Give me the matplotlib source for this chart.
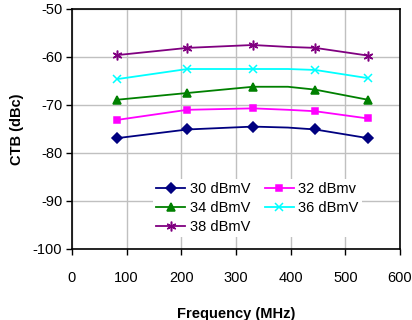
import numpy as np
import matplotlib
matplotlib.use('Agg')
import matplotlib.pyplot as pl

pl.rcParams['font.family'] = ['Liberation Sans', 'DejaVu Sans']
pl.rcParams['axes.unicode_minus'] = False

# frequency points (MHz); the 4th point has no marker on the original
freq = [83, 211, 331, 395, 445, 541]
marked = [0, 1, 2, 4, 5]

ctb30 = [-76.9, -75.1, -74.5, -74.7, -75.1, -76.9]
ctb32 = [-73.1, -71.0, -70.7, -71.0, -71.3, -72.8]
ctb34 = [-68.9, -67.5, -66.2, -66.2, -66.8, -68.9]
ctb36 = [-64.6, -62.5, -62.5, -62.5, -62.7, -64.4]
ctb38 = [-59.6, -58.1, -57.5, -57.9, -58.1, -59.7]

labels = ['30 dBmV', '32 dBmv', '34 dBmV', '36 dBmV', '38 dBmV']

fig = pl.figure(figsize=(4.12, 3.2), dpi=100)
ax = fig.add_axes([72/412, 1-249/320, 328/412, 240/320])

styles = [('#000080', 'D', 5), ('#FF00FF', 's', 5), ('#008000', '^', 6),
          ('#00FFFF', 'x', 6), ('#800080', (6, 2, 0), 7)]
handles = []
for yy, lab, (c, m, ms) in zip([ctb30, ctb32, ctb34, ctb36, ctb38], labels, styles):
    h, = ax.plot(freq, yy, color=c, marker=m, ms=ms, lw=1.3, mew=1.1,
                 markevery=marked, label=lab)
    handles.append(h)

ax.set_xlim(0, 600)
ax.set_ylim(-100, -50)
ax.set_xticks(np.arange(0, 601, 100))
ax.set_yticks(np.arange(-100, -49, 10))
ax.grid(True, color='#c0c0c0', lw=1)
ax.set_axisbelow(True)
for s in ax.spines.values():
    s.set_linewidth(1.2)
ax.tick_params(direction='out', length=4, width=1, labelsize=10.5, pad=12)
ax.tick_params(axis='y', pad=3)

ax.set_xlabel('Frequency (MHz)', fontsize=10.5, fontweight='bold', labelpad=16)
ax.set_ylabel('CTB (dBc)', fontsize=10.5, fontweight='bold')
ax.yaxis.set_label_coords(-0.145, 0.5)

order = [0, 2, 4, 1, 3]
leg = ax.legend([handles[i] for i in order], [labels[i] for i in order],
                ncol=2, loc='lower center', bbox_to_anchor=(0.565, 0.02),
                frameon=True, edgecolor='none', framealpha=1, fontsize=10.5,
                handlelength=2.0, handletextpad=0.3, columnspacing=1.0,
                labelspacing=0.35, borderpad=0.2)

fig.savefig('out.png', dpi=100)
